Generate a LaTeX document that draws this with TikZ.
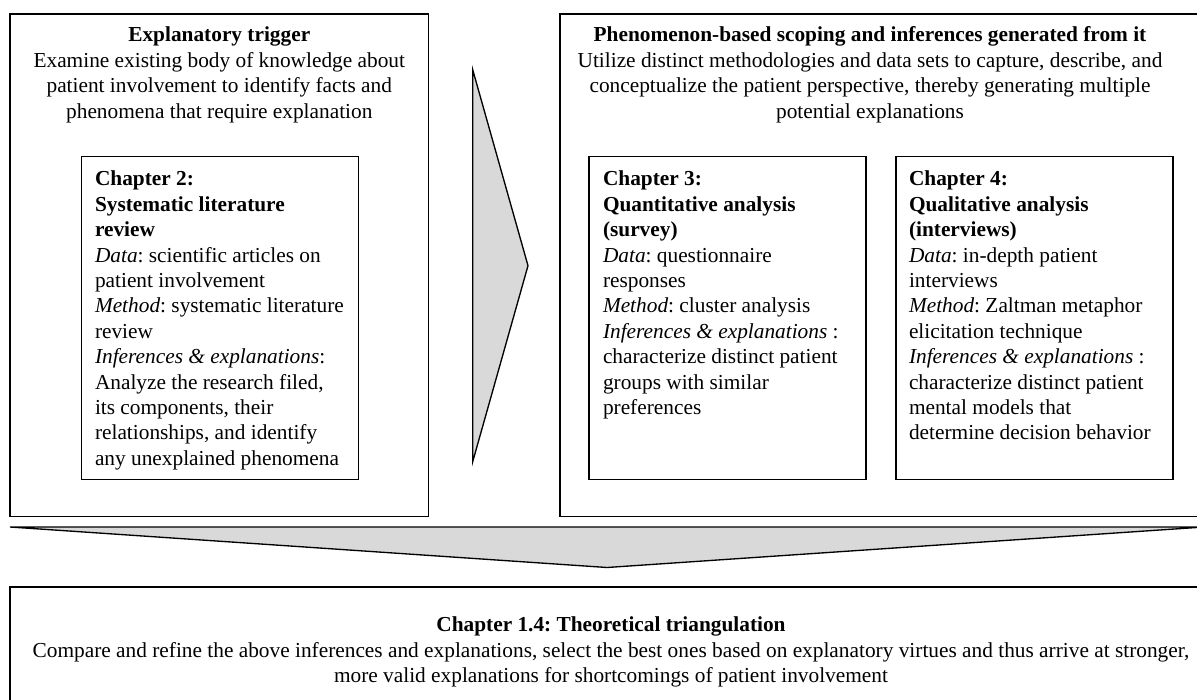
\documentclass[tikz,border=0pt]{standalone}
\usepackage{fontspec}
\setmainfont{Liberation Serif}
\frenchspacing
\definecolor{arrowgrey}{RGB}{217,217,217}
\begin{document}
\begin{tikzpicture}[x=0.75pt,y=-0.75pt,
  frame/.style 2 args={draw=black, line width=1pt, fill=white, inner sep=0pt,
    outer sep=0pt, anchor=north west, minimum width=#1*0.75pt, minimum height=#2*0.75pt},
  body/.style={inner sep=0pt, outer sep=0pt, font=\fontsize{16}{19.05}\selectfont},
  head/.style={body, align=center, anchor=north},
  chap/.style={body, align=left, anchor=north west},
  blockarrow/.style={draw=black, line width=1pt, fill=arrowgrey, line join=miter}]
\useasboundingbox (0,0) rectangle (1197,700);
\clip (0,0) rectangle (1197,700);

% outer frames
\node[frame={418.6}{502.7}] (trigger) at (10,14) {};
\node[frame={645}{502.7}] (scoping) at (560,14) {};
\node[frame={1202}{200}] (triang) at (10,587) {};

% chapter frames
\node[frame={276.6}{322.6}] (ch2) at (81.7,156.7) {};
\node[frame={277}{322.6}] (ch3) at (589,156.7) {};
\node[frame={277}{322.6}] (ch4) at (896,156.7) {};

% block arrows
\coordinate (ra1) at (472.7,69.7);
\coordinate (ra2) at (528,265.7);
\coordinate (ra3) at (472.7,461.7);
\draw[blockarrow] (ra1) -- (ra2) -- (ra3) -- cycle;
\coordinate (da1) at (10,527);
\coordinate (da2) at (1204,527);
\coordinate (da3) at (607,567.5);
\draw[blockarrow] (da1) -- (da2) -- (da3) -- cycle;

% headings
\node[head] (triggertext) at (219.3,24.2) {\strut\textbf{Explanatory trigger}\\
  Examine existing body of knowledge about\\
  patient involvement to identify facts and\\
  phenomena that require explanation};
\node[head] (scopingtext) at (870,24.2) {\strut\textbf{Phenomenon-based scoping and inferences generated from it}\\
  Utilize distinct methodologies and data sets to capture, describe, and\\
  conceptualize the patient perspective, thereby generating multiple\\
  potential explanations};
\node[head] (triangtext) at (611,614.2) {\strut\textbf{Chapter 1.4: Theoretical triangulation}\\
  Compare and refine the above inferences and explanations, select the best ones based on explanatory virtues and thus arrive at stronger,\\
  more valid explanations for shortcomings of patient involvement};

% chapter contents
\node[chap] (ch2text) at (95,168.2) {\strut\textbf{Chapter 2:}\\
  \textbf{Systematic literature}\\
  \textbf{review}\\
  \textit{Data}: scientific articles on\\
  patient involvement\\
  \textit{Method}: systematic literature\\
  review\\
  \textit{Inferences \& explanations}:\\
  Analyze the research filed,\\
  its components, their\\
  relationships, and identify\\
  any unexplained phenomena};
\node[chap] (ch3text) at (603,168.2) {\strut\textbf{Chapter 3:}\\
  \textbf{Quantitative analysis}\\
  \textbf{(survey)}\\
  \textit{Data}: questionnaire\\
  responses\\
  \textit{Method}: cluster analysis\\
  \textit{Inferences \& explanations} :\\
  characterize distinct patient\\
  groups with similar\\
  preferences};
\node[chap] (ch4text) at (909,168.2) {\strut\textbf{Chapter 4:}\\
  \textbf{Qualitative analysis}\\
  \textbf{(interviews)}\\
  \textit{Data}: in-depth patient\\
  interviews\\
  \textit{Method}: Zaltman metaphor\\
  elicitation technique\\
  \textit{Inferences \& explanations} :\\
  characterize distinct patient\\
  mental models that\\
  determine decision behavior};
\end{tikzpicture}
\end{document}
